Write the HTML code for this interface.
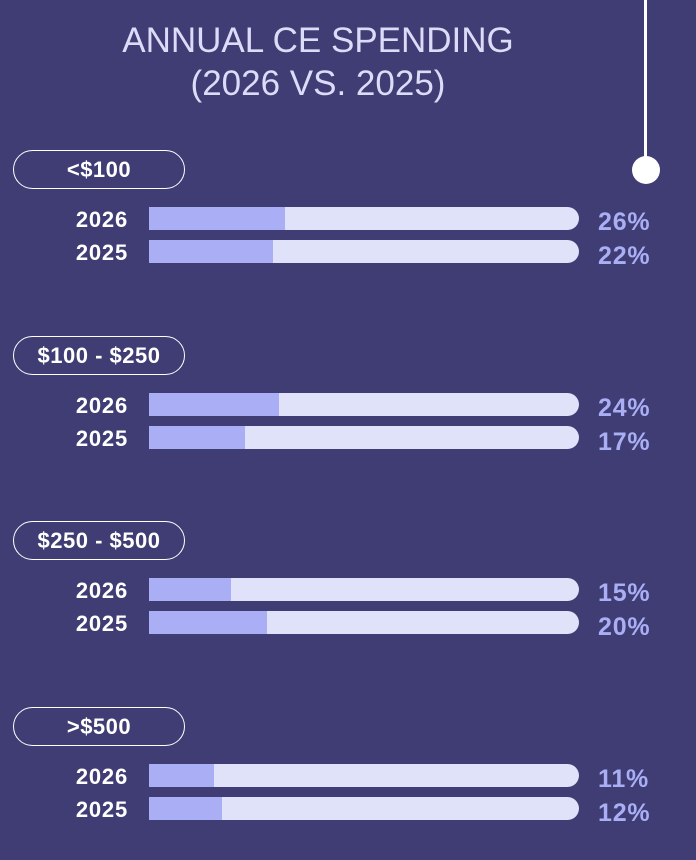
<!DOCTYPE html>
<html><head><style>
body{margin:0;width:696px;height:860px;background:#3f3d74;position:relative;overflow:hidden;font-family:"Liberation Sans",sans-serif}
.t{position:absolute;left:0;width:636px;text-align:center;color:#dcdcf8;font-size:35px;line-height:43px;top:19px}
.pill{position:absolute;left:13px;width:170px;height:37px;border:1.5px solid #fff;border-radius:20px;color:#fff;font-weight:bold;font-size:22px;letter-spacing:0.5px;text-align:center;line-height:37px}
.y{position:absolute;left:30px;width:98px;text-align:right;color:#fff;font-weight:bold;font-size:22px;letter-spacing:0.8px;line-height:23px}
.bar{position:absolute;left:149px;width:430px;height:23px;background:#dfe2f8;border-radius:0 12px 12px 0;overflow:hidden}
.bar i{display:block;height:100%;background:#a9aef5}
.p{position:absolute;left:598px;color:#a9aef5;font-weight:bold;font-size:25px;letter-spacing:0.8px;line-height:23px}
</style></head><body>
<div class="t">ANNUAL CE SPENDING<br>(2026 VS. 2025)</div>
<div style="position:absolute;left:644px;top:0;width:3px;height:165px;background:#fff"></div>
<div style="position:absolute;left:632px;top:156px;width:28px;height:28px;border-radius:50%;background:#fff"></div>

<div class="pill" style="top:150px">&lt;$100</div>
<div class="y" style="top:208px">2026</div><div class="bar" style="top:207px"><i style="width:136px"></i></div><div class="p" style="top:211px">26%</div>
<div class="y" style="top:241px">2025</div><div class="bar" style="top:240px"><i style="width:124px"></i></div><div class="p" style="top:245px">22%</div>

<div class="pill" style="top:336px">$100 - $250</div>
<div class="y" style="top:394px">2026</div><div class="bar" style="top:393px"><i style="width:130px"></i></div><div class="p" style="top:397px">24%</div>
<div class="y" style="top:427px">2025</div><div class="bar" style="top:426px"><i style="width:96px"></i></div><div class="p" style="top:431px">17%</div>

<div class="pill" style="top:521px">$250 - $500</div>
<div class="y" style="top:579px">2026</div><div class="bar" style="top:578px"><i style="width:82px"></i></div><div class="p" style="top:582px">15%</div>
<div class="y" style="top:612px">2025</div><div class="bar" style="top:611px"><i style="width:118px"></i></div><div class="p" style="top:616px">20%</div>

<div class="pill" style="top:707px">&gt;$500</div>
<div class="y" style="top:765px">2026</div><div class="bar" style="top:764px"><i style="width:65px"></i></div><div class="p" style="top:768px">11%</div>
<div class="y" style="top:798px">2025</div><div class="bar" style="top:797px"><i style="width:73px"></i></div><div class="p" style="top:802px">12%</div>
</body></html>
